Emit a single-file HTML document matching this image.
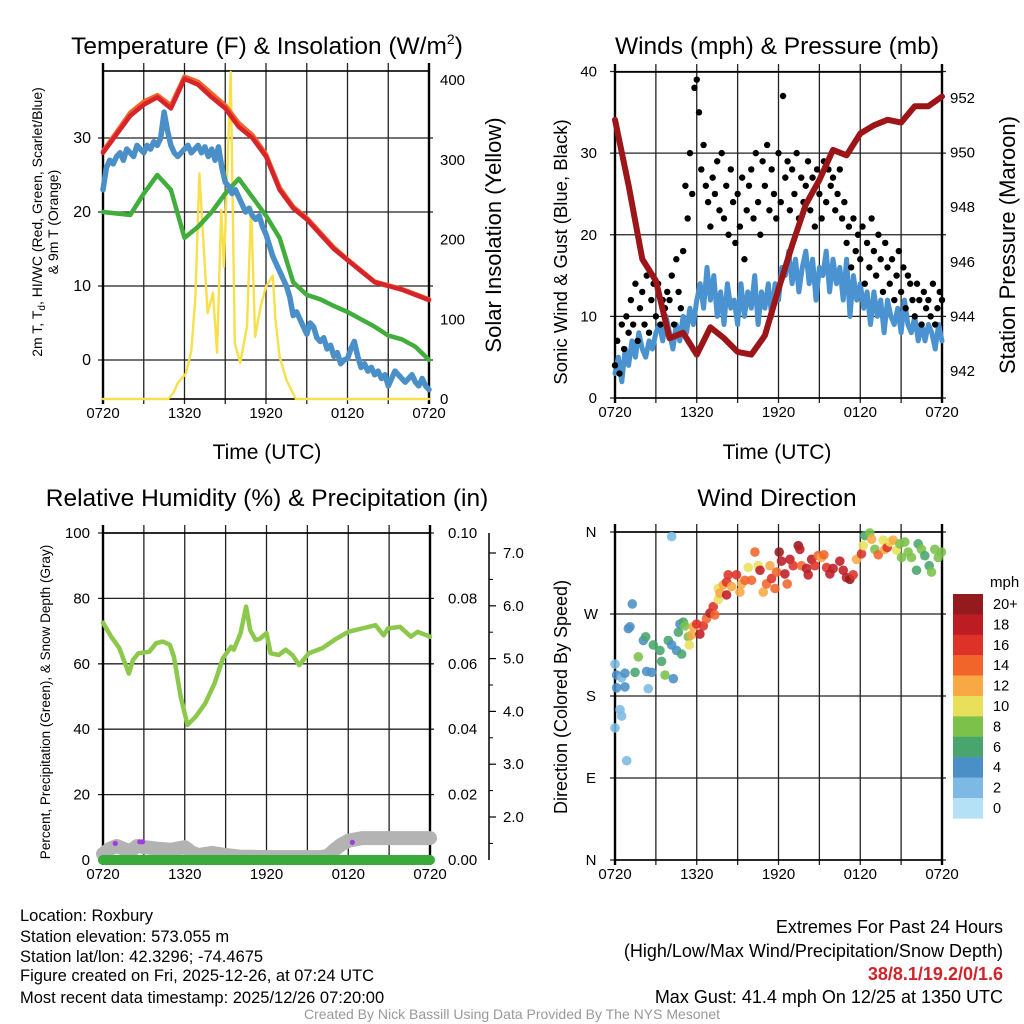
<!DOCTYPE html>
<html><head><meta charset="utf-8"><title>Roxbury Meteogram</title>
<style>
html,body{margin:0;padding:0;background:#fff;}
svg{display:block;font-family:"Liberation Sans",Arial,sans-serif;}
</style></head>
<body>
<svg id="chart" width="1024" height="1024" viewBox="0 0 1024 1024" xmlns="http://www.w3.org/2000/svg">
<rect x="0" y="0" width="1024" height="1024" fill="#fff"/>
<text x="267" y="54" font-size="24.5" text-anchor="middle">Temperature (F) &amp; Insolation (W/m<tspan font-size="14" dy="-10">2</tspan><tspan dy="10">)</tspan></text>
<text x="777" y="54" font-size="24.5" text-anchor="middle">Winds (mph) &amp; Pressure (mb)</text>
<text x="267" y="506" font-size="24.5" text-anchor="middle">Relative Humidity (%) &amp; Precipitation (in)</text>
<text x="777" y="506" font-size="24.5" text-anchor="middle">Wind Direction</text>

<text x="267" y="459" font-size="21" text-anchor="middle">Time (UTC)</text>
<text x="777" y="459" font-size="21" text-anchor="middle">Time (UTC)</text>

<text transform="translate(42,222) rotate(-90)" font-size="14" text-anchor="middle">2m T, T<tspan font-size="10" dy="3">d</tspan><tspan dy="-3">, HI/WC (Red, Green, Scarlet/Blue)</tspan></text>
<text transform="translate(58,222) rotate(-90)" font-size="14" text-anchor="middle">&amp; 9m T (Orange)</text>
<text transform="translate(501,235) rotate(-90)" font-size="22" text-anchor="middle">Solar Insolation (Yellow)</text>
<text transform="translate(567,252) rotate(-90)" font-size="18.5" text-anchor="middle">Sonic Wind &amp; Gust (Blue, Black)</text>
<text transform="translate(1015,245) rotate(-90)" font-size="22" text-anchor="middle">Station Pressure (Maroon)</text>
<text transform="translate(50,702) rotate(-90)" font-size="13.5" text-anchor="middle">Percent, Precipitation (Green), &amp; Snow Depth (Gray)</text>
<text transform="translate(567,697) rotate(-90)" font-size="18" text-anchor="middle">Direction (Colored By Speed)</text>

<g font-size="16.5">
<text x="20" y="921">Location: Roxbury</text>
<text x="20" y="942">Station elevation: 573.055 m</text>
<text x="20" y="962">Station lat/lon: 42.3296; -74.4675</text>
<text x="20" y="981">Figure created on Fri, 2025-12-26, at 07:24 UTC</text>
<text x="20" y="1003">Most recent data timestamp: 2025/12/26 07:20:00</text>
</g>
<g font-size="18" text-anchor="end">
<text x="1003" y="933">Extremes For Past 24 Hours</text>
<text x="1003" y="957">(High/Low/Max Wind/Precipitation/Snow Depth)</text>
<text x="1003" y="980" fill="#d0242b" font-weight="bold">38/8.1/19.2/0/1.6</text>
<text x="1003" y="1003">Max Gust: 41.4 mph On 12/25 at 1350 UTC</text>
</g>
<text x="512" y="1019" font-size="14" fill="#999" text-anchor="middle">Created By Nick Bassill Using Data Provided By The NYS Mesonet</text>
<g id="layer"></g>
</svg>
<script>
// ---------- DATA ----------
const timeLabels = ["0720","1320","1920","0120","0720"];
const hourly = [0,1,2,3,4,5,6,7,8,9,10,11,12,13,14,15,16,17,18,19,20,21,22,23,24];
const tempRed = [28,30.5,33,34.5,35.5,34,38,37.2,35.5,34,31.5,30,27.5,23,20.5,19,17,15,13.5,12,10.5,10,9.5,8.8,8.1];
const temp9m = [28.2,30.8,33.4,34.9,35.8,34.4,38.3,37.6,36,34.4,32,30.4,27.8,23.3,20.7,19.2,17.2,15.2,13.6,12.1,10.6,10.1,9.6,8.9,8.2];
const dewGreen = [20,19.8,19.6,22.5,25,23,16.5,18,20,22.5,24.5,22,19.5,16.5,10.5,8.8,8.2,7.3,6.5,5.5,4.5,3.3,2.8,1.8,0];
const quarterHours = Array.from({length:97},(_,i)=>i*0.25);
const heatIndexBlue = [23,26,27,26.5,27.5,28,27,28.5,28,27.5,29,28.5,28,29,28.5,29.5,29,30,33.5,31,29,28,27.5,28,28.5,29,28,28.5,29,28,28.8,27.5,28.5,27,28.8,26,24,23.5,22.5,23,22,21,20,20.5,19.5,19,19.5,18,17,15.5,14,13,12,11,10,8.5,6,6.5,5.5,4.5,3.5,5,4.5,3,2.5,3,1.5,2,0.5,1,-0.5,0,0.2,1.5,2.5,0.5,-1,-0.5,-1.5,-1,-2,-1.5,-2.5,-2,-3.5,-2.5,-1.5,-2,-2.5,-3,-2.5,-2,-3,-3.5,-2.5,-3.5,-4];
const solarHours = [0,4.8,5.2,5.5,6.1,6.5,6.8,7.1,7.5,7.7,8.1,8.4,8.7,8.9,9.1,9.4,9.7,10.1,10.6,10.9,11.2,11.6,12,12.5,12.7,13,13.5,14.2,24];
const solarValues = [0,0,8,20,32,60,128,283,166,108,133,58,237,166,258,410,70,45,91,241,78,116,141,155,99,53,24,0,0];

const windQuarter = [3,5,2,6,4,7,5,8,6,5,7,6,8,9,7,10,8,6,9,7,10,8,11,9,12,14,11,16,12,15,10,13,9,14,11,12,9,14,10,13,11,15,9,13,11,14,10,14,12,16,15,18,14,17,13,16,18,14,17,12,16,15,18,13,17,14,16,12,17,10,15,12,14,11,13,9,13,10,12,8,12,10,9,11,8,12,9,8,10,7,9,7,9,8,6,9,7,8];
const gustValues = [4,7,3,9,6,10,8,12,9,14,7,11,13,9,15,8,12,14,10,14,9,12,11,13,12,15,9,17,13,11,18,26,22,30,25,38,39,35,28,31,26,24,21,27,25,29,23,30,22,26,20,28,24,19,25,21,27,17,23,26,28,22,30,24,20,29,26,31,23,28,25,22,30,24,37,27,29,23,28,25,30,22,27,24,26,29,23,27,21,28,25,22,29,24,28,26,27,23,25,28,22,24,19,21,16,22,18,20,17,21,14,19,16,22,18,15,20,17,13,19,16,14,17,12,15,18,13,16,11,15,14,12,10,14,12,9,13,11,12,10,14,9,11,13,12];
const pressure = [951.2,948.8,946.1,945.3,943.2,943.4,942.6,943.6,943.2,942.7,942.6,943.3,945.0,946.6,948.1,949.0,950.1,949.9,950.7,951.0,951.2,951.1,951.7,951.7,952.05];

const rhHours = [0,0.6,1.2,1.9,2.2,2.6,3.4,3.9,4.4,4.9,5.2,5.7,6.2,6.8,7.5,8.2,8.8,9.4,9.6,10.1,10.5,10.8,11.2,11.5,12,12.3,12.9,13.4,13.9,14.4,15.1,16.1,17.1,18,19,20,20.6,20.9,21.8,22.6,23.1,24];
const rhValues = [72.6,68.3,64.8,57,61.2,63.2,63.7,66.3,66.8,65.8,62.2,49.9,41.3,43.8,47.9,54.1,61.7,65.2,64.3,69.4,77.5,70.3,67.3,67.6,69.4,63.2,62.7,64.3,62.7,59.6,63.2,64.8,67.6,69.8,70.8,71.8,68.7,70.8,71.3,68.3,69.8,68.3];
const snowHours = [0,0.5,1,1.5,2,2.5,3,4,5,6,6.5,7,8,9,10,12,14,16,16.5,17,17.5,18,19,24];
const snowDepth = [1.3,1.4,1.45,1.4,1.35,1.45,1.43,1.4,1.38,1.43,1.33,1.28,1.32,1.28,1.25,1.24,1.24,1.24,1.26,1.38,1.48,1.55,1.6,1.6];
const precipHours = [0,24];
const precipValues = [0,0];
const precipMarkHours = [0.9,2.7,2.9,18.3];
const precipMarkDepth = [1.5,1.53,1.53,1.52];

const dirHours = [0,0.37,0.49,0.86,0,0.12,0.12,0.73,0.49,0.73,1.27,1.1,0.98,1.47,1.71,2.08,2.25,2.32,2.44,2.69,2.81,3.3,3.42,3.67,3.91,4.16,4.28,4.52,4.65,4.89,4.77,5.01,5.13,5.38,5.45,5.62,5.75,5.99,6.23,6.48,6.72,6.97,7.21,7.33,7.58,7.58,7.7,7.95,8.19,8.31,8.19,8.56,8.92,9.17,9.29,9.54,9.78,10.02,10.27,10.51,10.64,10.88,11.12,11.37,11.49,11.74,11.86,12.05,12.22,12.47,12.64,12.84,13.08,13.45,13.57,13.69,14.06,14.18,14.43,14.67,14.91,15.16,15.33,15.53,15.77,16.01,16.5,16.75,16.99,17.24,17.48,17.73,18.09,18.22,18.34,18.7,18.83,19.07,19.32,19.68,19.8,19.98,20.17,20.42,20.66,20.9,21.03,21.27,21.52,21.76,22.13,22.25,22.49,22.74,23.06,23.23,23.47,23.72,23.96,4.16];
const dirDegrees = [145,165,158,109,215,203,189,190,200,205,281,256,254,206,223,241,245,207,188,206,236,230,218,203,241,236,199,230,250,226,259,261,257,245,236,247,256,259,248,257,265,271,278,269,286,298,293,302,305,313,291,300,313,294,303,307,321,307,338,323,318,294,303,323,309,298,316,338,328,314,303,330,323,345,341,323,320,313,330,323,334,332,335,321,314,320,328,318,310,308,313,330,336,345,356,359,352,341,335,351,341,343,349,351,340,347,332,349,338,332,318,347,341,334,323,316,341,332,338,355];
const dirSpeeds = [2,2,2,2,2,4,4,4,3,4,4,4,4,6,8,4,6,4,3,4,6,6,6,8,6,4,4,4,6,6,4,6,8,8,10,12,12,16,18,16,14,18,16,14,10,10,12,12,16,16,18,12,16,12,12,14,10,14,14,10,18,12,14,12,16,14,14,20,18,18,14,18,16,20,18,14,18,18,18,16,14,12,14,16,18,18,18,18,18,20,16,12,16,10,6,8,12,8,14,10,12,16,10,12,10,8,8,8,8,8,6,6,8,6,6,8,8,8,8,2];
const speedLabels = ["20+","18","16","14","12","10","8","6","4","2","0"];
const speedColors = ["#b5e1f7","#7db9e4","#4a8fc6","#48a56d","#7bc14a","#e8e05a","#f8a944","#f1652b","#de3228","#bd1c24","#941a1d"];

const tempTicks = [0,10,20,30];
const solarTicks = [0,100,200,300,400];
const windTicks = [0,10,20,30,40];
const pressTicks = [942,944,946,948,950,952];
const rhTicks = [0,20,40,60,80,100];
const precipTicks = ["0.00","0.02","0.04","0.06","0.08","0.10"];
const snowTicks = ["2.0","3.0","4.0","5.0","6.0","7.0"];
const dirTicks = [0,90,180,270,360];
const dirTickLabels = ["N","E","S","W","N"];

// ---------- HELPERS ----------
const NS="http://www.w3.org/2000/svg";
const layer=document.getElementById('layer');
function mk(tag,attrs,parent){const e=document.createElementNS(NS,tag);for(const k in attrs)e.setAttribute(k,attrs[k]);(parent||layer).appendChild(e);return e;}
function lin(d0,d1,r0,r1){return v=>r0+(v-d0)*(r1-r0)/(d1-d0);}
function pathD(xs,ys,fx,fy){return xs.map((x,i)=>(i?'L':'M')+fx(x).toFixed(1)+','+fy(ys[i]).toFixed(1)).join('');}

function panelFrame(L,R,T,B,yTicksPx,name){
  const g=mk('g',{});
  
  
  for(let h=3;h<24;h+=3){const x=L+(R-L)*h/24;
    const ln=mk('line',{x1:x,x2:x,y1:T-8,y2:B+5,stroke:'#222','stroke-width':1.3},g);
    
    }
  yTicksPx.forEach(y=>{const ln=mk('line',{x1:L-5,x2:R+4,y1:y,y2:y,stroke:'#222','stroke-width':1.3},g);
    
    });
  const fr=mk('rect',{x:L,y:T,width:R-L,height:B-T,fill:'none',stroke:'#000','stroke-width':1.6},g);
  
  
  mk('line',{x1:L,x2:L,y1:T-8,y2:B+5,stroke:'#000','stroke-width':2.4},g);
  mk('line',{x1:R,x2:R,y1:T-8,y2:B+5,stroke:'#000','stroke-width':2.4},g);
  timeLabels.forEach((t,i)=>{const x=L+(R-L)*i/4;
    const tx=mk('text',{x:x,y:B+19,'font-size':15,'text-anchor':'middle'},g);tx.textContent=t;
    
    });
}
function tickLabels(vals,labels,fy,x,anchor,name,size){
  vals.forEach((v,i)=>{const t=mk('text',{x:x,y:fy(v)+5,'font-size':size||14,'text-anchor':anchor});t.textContent=labels[i];
    
    });
}
function line(xs,ys,fx,fy,color,w,name,op){
  const p=mk('path',{d:pathD(xs,ys,fx,fy),fill:'none',stroke:color,'stroke-width':w,'stroke-linejoin':'round','stroke-linecap':'round','stroke-opacity':op||1});
  
  
  return p;
}

// ---------- PANEL 1 ----------
{const L=103,R=429,T=71,B=399;
 const fx=lin(0,24,L,R), fy=lin(0,30,360,138), fs=lin(0,400,399,80);
 panelFrame(L,R,T,B,tempTicks.map(fy),'temperature-panel');
 tickLabels(tempTicks,tempTicks.map(String),fy,91,'end','temp-tick-label',16);
 tickLabels(solarTicks,solarTicks.map(String),fs,440,'start','solar-tick-label',15);
 line(solarHours,solarValues,fx,fs,'#f8e04a',2.4,'solar-insolation-line');
 line(hourly,dewGreen,fx,fy,'#40ad3c',4.5,'dewpoint-line');
 line(quarterHours,heatIndexBlue,fx,fy,'#4a8fc8',5.5,'windchill-line');
 line(hourly,temp9m,fx,fy,'#f1652b',4.5,'temp-9m-line');
 line(hourly,tempRed,fx,fy,'#d7232a',4.5,'temp-2m-line');
}
// ---------- PANEL 2 ----------
{const L=615,R=942,T=72,B=398;
 const fx=lin(0,24,L,R), fy=lin(0,40,398,71.5), fp=lin(942,952,371,98);
 panelFrame(L,R,T,B,windTicks.map(fy),'winds-panel');
 tickLabels(windTicks,windTicks.map(String),fy,597,'end','wind-tick-label',15);
 tickLabels(pressTicks,pressTicks.map(String),fp,950,'start','pressure-tick-label',15);
 line(quarterHours,windQuarter,fx,fy,'#4a93d0',5,'sustained-wind-line');
 gustValues.forEach((v,i)=>{const c=mk('circle',{cx:fx(i/6),cy:fy(v),r:3.2,fill:'#000'});
   
   });
 line(hourly,pressure,fx,fp,'#9c1519',6,'pressure-line');
}
// ---------- PANEL 3 ----------
{const L=103,R=430,T=533,B=860;
 const fx=lin(0,24,L,R), fy=lin(0,100,860,533), fsn=lin(2,7,817,553);
 panelFrame(L,R,T,B,rhTicks.map(fy),'humidity-panel');
 tickLabels(rhTicks,rhTicks.map(String),fy,90,'end','rh-tick-label',15);
 tickLabels(rhTicks,precipTicks,fy,448,'start','precip-tick-label',15);
 const ax=mk('line',{x1:489,x2:489,y1:533,y2:860,stroke:'#000','stroke-width':1.5});
 
 
 [2,3,4,5,6,7].forEach(v=>mk('line',{x1:489,x2:496,y1:fsn(v),y2:fsn(v),stroke:'#000','stroke-width':1.2}));
 [1.5,2.5,3.5,4.5,5.5,6.5].forEach(v=>mk('line',{x1:489,x2:493,y1:fsn(v),y2:fsn(v),stroke:'#000','stroke-width':1}));
 tickLabels([2,3,4,5,6,7],snowTicks,fsn,503,'start','snow-tick-label',15);
 line(snowHours,snowDepth,fx,fsn,'#b3b3b3',14,'snow-depth-line');
 line(precipHours,precipValues,fx,v=>fy(0)+v,'#3aaa3a',10,'precipitation-line');
 precipMarkHours.forEach((h,i)=>{const c=mk('circle',{cx:fx(h),cy:fsn(precipMarkDepth[i]),r:2.6,fill:'#a23be0'});
   
   });
 line(rhHours,rhValues,fx,fy,'#8cc84b',4.5,'relative-humidity-line');
}
// ---------- PANEL 4 ----------
{const L=615,R=942,T=532,B=860;
 const fx=lin(0,24,L,R), fy=lin(0,360,860,532);
 panelFrame(L,R,T,B,dirTicks.map(fy),'direction-panel');
 tickLabels(dirTicks,dirTickLabels,fy,591,'middle','direction-tick-label',15);
 dirHours.forEach((h,i)=>{const idx=Math.min(10,Math.floor(dirSpeeds[i]/2));
   const c=mk('circle',{cx:fx(h),cy:fy(dirDegrees[i]),r:4.8,fill:speedColors[idx],'fill-opacity':0.88});
   
   });
 const t=mk('text',{x:990,y:587,'font-size':15});t.textContent='mph';
 
 
 speedLabels.forEach((lab,i)=>{const y=594+i*20.4;
   const r=mk('rect',{x:953,y:y,width:30,height:20.6,fill:speedColors[10-i]});
   
   
   const tx=mk('text',{x:993,y:y+15,'font-size':14.5});tx.textContent=lab;
   
   });
}
</script>
</body></html>
